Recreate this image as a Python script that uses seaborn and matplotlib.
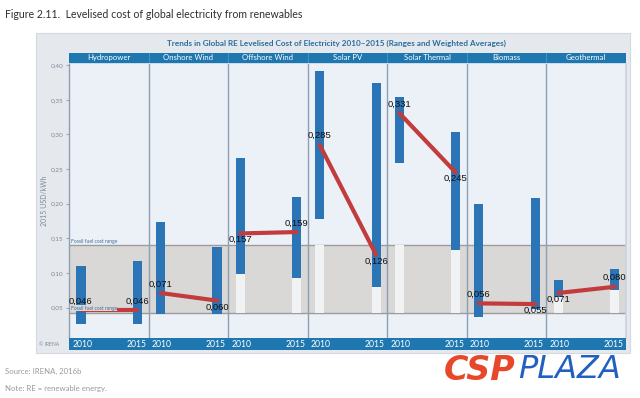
import numpy as np
import pandas as pd
import matplotlib
matplotlib.use("Agg")
import matplotlib.pyplot as plt
import seaborn as sns
from matplotlib.patches import Rectangle

# ---------------- data ----------------
technologies = ["Hydropower", "Onshore Wind", "Offshore Wind", "Solar PV",
                "Solar Thermal", "Biomass", "Geothermal"]
years = [2010, 2015]
low_2010 = [0.026, 0.041, 0.099, 0.178, 0.259, 0.036, 0.065]
high_2010 = [0.110, 0.174, 0.266, 0.392, 0.354, 0.199, 0.090]
low_2015 = [0.026, 0.041, 0.092, 0.080, 0.133, 0.048, 0.075]
high_2015 = [0.117, 0.137, 0.209, 0.374, 0.303, 0.208, 0.106]
avg_2010 = [0.046, 0.071, 0.157, 0.285, 0.331, 0.056, 0.071]
avg_2015 = [0.046, 0.060, 0.159, 0.126, 0.245, 0.055, 0.080]
fossil_range = [0.042, 0.140]
y_ticks = [0.05, 0.10, 0.15, 0.20, 0.25, 0.30, 0.35, 0.40]

# ---------------- style ----------------
sns.set_theme(style="white")
plt.rcParams['font.family'] = ['Lato', 'DejaVu Sans']

BLUE_BAR = "#2b74b6"
STRIP = "#1f77b0"
RED = "#c23b3d"
CARD = "#e5e9ee"
PLOT_BG = "#ecf0f7"
BAND = "#d9d8d6"
PALE = "#f1f2f4"
DIVIDER = "#8c9fb3"

W, H = 640, 398
fig = plt.figure(figsize=(6.4, 3.98), dpi=100)
fig.patch.set_facecolor("white")

def fx(px):
    return px / W

def fy(py):
    return 1 - py / H

# card background
card = Rectangle((fx(36), fy(353)), fx(630) - fx(36), fy(33) - fy(353),
                 transform=fig.transFigure, facecolor=CARD,
                 edgecolor="#d3d9e0", lw=0.8, zorder=-10)
fig.patches.append(card)

left, right, top, bottom = 69, 626, 64, 338
ax = fig.add_axes([fx(left), fy(bottom), fx(right) - fx(left), fy(top) - fy(bottom)])
ax.set_facecolor(PLOT_BG)
ax.set_zorder(2)

n = len(technologies)
off = {2010: 0.15, 2015: 0.86}
bw = 0.115

rows = []
for i, t in enumerate(technologies):
    for yr, lo, hi, av in ((2010, low_2010[i], high_2010[i], avg_2010[i]),
                           (2015, low_2015[i], high_2015[i], avg_2015[i])):
        rows.append(dict(tech=t, year=yr, x=i + off[yr], low=lo, high=hi, avg=av))
df = pd.DataFrame(rows)

# fossil fuel band
ax.axhspan(fossil_range[0], fossil_range[1], color=BAND, zorder=1, lw=0)
for v in fossil_range:
    ax.axhline(v, color="#9c9c9c", lw=1.0, zorder=1.5)

# pale columns inside the band below each range bar
for _, r in df.iterrows():
    if r.low > fossil_range[0]:
        top_pale = min(r.low, fossil_range[1])
        ax.bar(r.x, top_pale - fossil_range[0], bottom=fossil_range[0],
               width=bw, color=PALE, zorder=2, lw=0)

# range bars
ax.bar(df.x, df.high - df.low, bottom=df.low, width=bw, color=BLUE_BAR,
       zorder=3, lw=0)

# weighted averages
sns.lineplot(data=df, x="x", y="avg", units="tech", estimator=None,
             color=RED, lw=3.0, ax=ax, zorder=4, legend=False)

# value labels
for i in range(n):
    a0, a1 = avg_2010[i], avg_2015[i]
    if a1 > a0:
        pos = {2010: "below", 2015: "above"}
    elif a1 < a0:
        pos = {2010: "above", 2015: "below"}
    else:
        pos = {2010: "above", 2015: "above"}
    for yr, av in ((2010, a0), (2015, a1)):
        dy = 6.5 if pos[yr] == "above" else -4.5
        ax.annotate(f"{av:.3f}".replace(".", ","), (i + off[yr], av),
                    xytext=(0, dy), textcoords="offset points",
                    ha="center", va="center", fontsize=6.8, color="#111111",
                    family=['Liberation Sans Narrow', 'Liberation Sans'], zorder=6)

# fossil fuel range labels
ax.text(0.02, fossil_range[1] + 0.002, "Fossil fuel cost range", fontsize=3.6,
        color="#3f6b98", va="bottom", ha="left", zorder=6)
ax.text(0.02, fossil_range[0] + 0.003, "Fossil fuel cost range", fontsize=3.6,
        color="#3f6b98", va="bottom", ha="left", zorder=6,
        bbox=dict(boxstyle="square,pad=0.1", fc=BAND, ec="none"))

# panel dividers
for i in range(1, n):
    ax.axvline(i, color=DIVIDER, lw=1.0, zorder=1.8)

ax.set_xlim(0, n)
ax.set_ylim(0.006, 0.4017)
ax.set_xticks([])
ax.set_yticks(y_ticks)
ax.set_yticklabels([f"{v:.2f}".replace(".", ",") for v in y_ticks])
ax.tick_params(axis="y", length=2.5, width=0.6, color="#8a99a8", labelsize=4.6,
               labelcolor="#7b8998", pad=1.5, left=True)
ax.set_xlabel("")
ax.set_ylabel("2015 USD/kWh", fontsize=5.0, color="#7b8998", labelpad=2)
for s in ax.spines.values():
    s.set_visible(False)
ax.spines["left"].set_visible(True)
ax.spines["left"].set_color(DIVIDER)
ax.spines["left"].set_linewidth(1.0)
ax.spines["right"].set_visible(True)
ax.spines["right"].set_color("#c9d3de")

# header strip
hax = fig.add_axes([fx(left), fy(62.5), fx(right) - fx(left), fy(53) - fy(62.5)])
hax.set_facecolor(STRIP)
hax.set_zorder(2)
hax.set_xlim(0, n)
hax.set_ylim(0, 1)
hax.set_xticks([]); hax.set_yticks([])
for s in hax.spines.values():
    s.set_visible(False)
for i, t in enumerate(technologies):
    hax.text(i + 0.5, 0.48, t, ha="center", va="center", color="white", fontsize=5.6)
    if i > 0:
        hax.axvline(i, color="#5a9bc9", lw=0.5)
# thin light line below header
fig.patches.append(Rectangle((fx(left), fy(64)), fx(right) - fx(left), fy(62.5) - fy(64),
                             transform=fig.transFigure, facecolor="#c9dcec", lw=0, zorder=1))

# year strip
yax = fig.add_axes([fx(left), fy(350), fx(right) - fx(left), fy(338) - fy(350)])
yax.set_facecolor(STRIP)
yax.set_zorder(2)
yax.set_xlim(0, n)
yax.set_ylim(0, 1)
yax.set_xticks([]); yax.set_yticks([])
for s in yax.spines.values():
    s.set_visible(False)
for i in range(n):
    yax.text(i + 0.04, 0.45, str(years[0]), ha="left", va="center", color="white", fontsize=6.2)
    yax.text(i + 0.97, 0.45, str(years[1]), ha="right", va="center", color="white", fontsize=6.2)

fig.text(fx(49), fy(344), "© IRENA", fontsize=3.6, color="#7b8998", ha="center", va="center")

# titles
fig.text(fx(5), fy(14), "Figure 2.11.  Levelised cost of global electricity from renewables",
         fontsize=7.6, color="#2e2e2e", ha="left", va="center")
fig.text(fx(336), fy(43),
         "Trends in Global RE Levelised Cost of Electricity 2010–2015 (Ranges and Weighted Averages)",
         fontsize=5.9, color="#2a6d9c", ha="center", va="center", fontweight="bold")

# source / note
fig.text(fx(5), fy(371), "Source: IRENA, 2016b", fontsize=5.6, color="#9a9a9a",
         ha="left", va="center")
fig.text(fx(5), fy(388), "Note: RE = renewable energy.", fontsize=5.6, color="#9a9a9a",
         ha="left", va="center")

# watermark logo text
fig.text(fx(444), fy(370), "CSP", fontsize=24, color="#e8482a", fontweight="heavy",
         fontstyle="italic", ha="left", va="center", family=['DejaVu Sans'])
fig.text(fx(518), fy(370), "PLAZA", fontsize=23, color="#2160c0", fontweight="light",
         fontstyle="italic", ha="left", va="center", family=['DejaVu Sans'])

fig.savefig("out.png", dpi=100, facecolor="white")
